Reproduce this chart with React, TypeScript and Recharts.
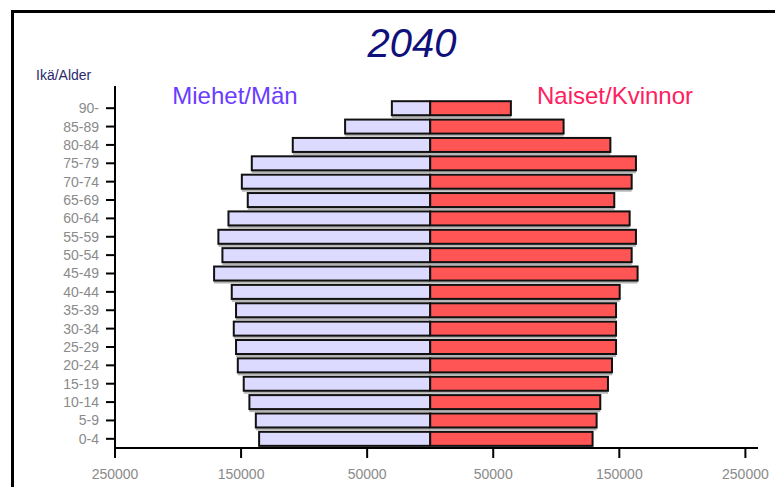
import { BarChart, Bar, XAxis, YAxis } from "recharts";

const AGES = ["0-4", "5-9", "10-14", "15-19", "20-24", "25-29", "30-34", "35-39", "40-44", "45-49",
  "50-54", "55-59", "60-64", "65-69", "70-74", "75-79", "80-84", "85-89", "90-"];
const MEN = [135700, 138300, 143400, 147900, 152600, 154000, 155800, 154000, 157400, 171400,
  164800, 168000, 160000, 144700, 149400, 141500, 109000, 67500, 30400];
const WOMEN = [128800, 132000, 134900, 141000, 144200, 147400, 147400, 147400, 150300, 164500,
  159800, 163200, 158200, 146000, 159800, 163200, 142900, 105800, 64000];
const X_TICKS = [-250000, -150000, -50000, 50000, 150000, 250000];

const FONT = "'Liberation Sans', Arial, sans-serif";

const chartData = AGES.map((age, i) => ({ age, men: -MEN[i], women: WOMEN[i] }));

// bar with a grey drop shadow underneath
function ShadowBar(props: any) {
  const { x, y, width, height, fill } = props;
  const x0 = Math.min(x, x + width);
  const w = Math.abs(width);
  return (
    <g>
      <rect x={x0} y={y + 3} width={w} height={height} fill="#b4b4b4" />
      <rect x={x0} y={y} width={w} height={height} fill={fill} stroke="#111" strokeWidth={2} />
    </g>
  );
}

export default function App() {
  return (
    <div style={{ position: "relative", margin: -8, width: 783, height: 495, overflow: "hidden", background: "#fff" }}>
      <div style={{ position: "absolute", left: 11, top: 10, width: 820, height: 520, border: "3px solid #000" }} />
      <div style={{ position: "absolute", left: 0, top: 0 }}>
        <BarChart
          width={783}
          height={495}
          data={chartData}
          layout="vertical"
          stackOffset="sign"
          barCategoryGap="12%"
          margin={{ top: 86, right: 25, bottom: 17, left: 0 }}
        >
          <XAxis
            type="number"
            domain={[-250000, 260000]}
            ticks={X_TICKS}
            allowDataOverflow
            tickFormatter={(v: number) => String(Math.abs(v))}
            height={30}
            tickSize={10}
            tickMargin={11}
            axisLine={{ stroke: "#000", strokeWidth: 2 }}
            tickLine={{ stroke: "#000", strokeWidth: 2 }}
            tick={{ fill: "#8a8a8a", fontSize: 14, fontFamily: FONT }}
          />
          <YAxis
            type="category"
            dataKey="age"
            reversed
            width={115}
            padding={{ top: 13, bottom: 0 }}
            interval={0}
            tickSize={9}
            tickMargin={7}
            axisLine={{ stroke: "#000", strokeWidth: 2 }}
            tickLine={{ stroke: "#000", strokeWidth: 2 }}
            tick={{ fill: "#8a8a8a", fontSize: 14, fontFamily: FONT }}
          />
          <Bar dataKey="men" stackId="p" fill="#dcdaff" shape={ShadowBar} isAnimationActive={false} />
          <Bar dataKey="women" stackId="p" fill="#ff5555" shape={ShadowBar} isAnimationActive={false} />
        </BarChart>
      </div>
      <svg width={783} height={495} style={{ position: "absolute", left: 0, top: 0, pointerEvents: "none" }}>
        <text x={412} y={57} textAnchor="middle" fontFamily={FONT} fontStyle="italic" fontSize={40} fill="#10107a">2040</text>
        <text x={36} y={80} fontFamily={FONT} fontSize={14} fill="#2a2a6a">Ikä/Alder</text>
        <text x={235} y={104} textAnchor="middle" fontFamily={FONT} fontSize={24} fill="#6a3cff">Miehet/Män</text>
        <text x={615} y={104} textAnchor="middle" fontFamily={FONT} fontSize={24} fill="#ff2060">Naiset/Kvinnor</text>
      </svg>
    </div>
  );
}
